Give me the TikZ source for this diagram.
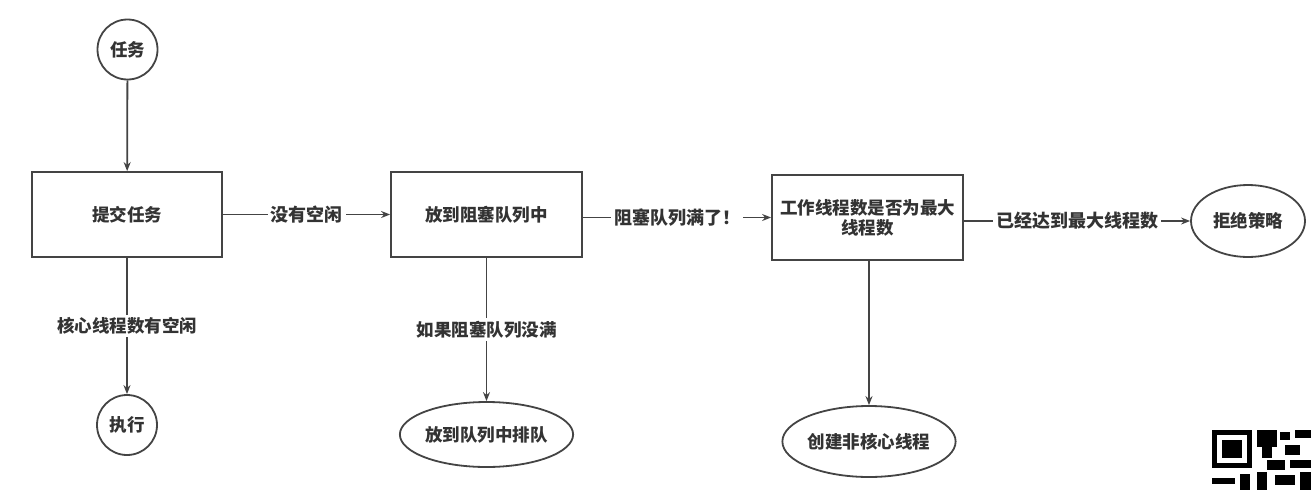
\documentclass[tikz,border=0pt]{standalone}
\usepackage{fontspec}
\setmainfont{Noto Sans CJK SC}
\usetikzlibrary{arrows.meta,shapes.geometric}
\definecolor{linec}{HTML}{444444}
\definecolor{textc}{HTML}{333333}
\begin{document}
\begin{tikzpicture}[x=1pt,y=-1pt,
  base/.style={draw=linec, line width=1.8pt, align=center, inner sep=0pt, text=textc,
    font=\fontsize{17.5}{20}\selectfont\bfseries},
  box/.style={base, rectangle, minimum width=#1, minimum height=85pt},
  circ/.style={base, circle, minimum size=60pt},
  oval/.style={base, ellipse, minimum width=#1},
  arr/.style={draw=linec, line width=1.8pt, -{Stealth[length=9pt,width=7pt]}},
  lbl/.style={fill=white, text=textc, inner sep=3pt, font=\fontsize{18}{22}\selectfont\bfseries},
  vlbl/.style={lbl, font=\fontsize{17.5}{21}\selectfont\bfseries}]
\useasboundingbox (0,0) rectangle (1311,490);
\fill[white] (0,0) rectangle (1311,490);

\node[circ] (task) at (127.5,49.5) {任务};
\node[box=190pt] (submit) at (127,214.5) {提交任务};
\node[circ] (exec) at (127,425) {执行};
\node[box=191pt] (queue) at (486.5,214.5) {放到阻塞队列中};
\node[box=191pt] (check) at (867.5,217.5) {工作线程数是否为最大\\线程数};
\node[oval=114pt, minimum height=72pt] (reject) at (1248,221) {拒绝策略};
\node[oval=157pt, minimum height=65pt] (wait) at (486.5,434.5) {放到队列中排队};
\node[oval=168pt, minimum height=71pt] (create) at (869,441.5) {创建非核心线程};

\draw[arr] (task) -- (submit);
\draw[arr] (submit) -- node[vlbl]{核心线程数有空闲} (exec);
\draw[arr] (submit) -- node[lbl]{没有空闲} (queue);
\draw[arr] (queue.east |- check.west) -- node[lbl]{阻塞队列满了！} (check.west);
\draw[arr] (check.east |- reject.west) -- node[lbl]{已经达到最大线程数} (reject.west);
\draw[arr] (queue) -- node[vlbl]{如果阻塞队列没满} (wait);
\draw[arr] (check.south -| create.north) -- (create.north);

% partial QR code in the corner
\begin{scope}[black]
\fill (1212,430) rectangle (1252,468);
\fill[white] (1217,435) rectangle (1247,463);
\fill (1222,440) rectangle (1242,458);
\fill (1257,430) rectangle (1277,447);
\fill (1262,447) rectangle (1272,458);
\fill (1280,432) rectangle (1290,440);
\fill (1295,430) rectangle (1311,438);
\fill (1285,445) rectangle (1300,455);
\fill (1267,460) rectangle (1285,470);
\fill (1290,460) rectangle (1311,468);
\fill (1257,472) rectangle (1267,490);
\fill (1275,475) rectangle (1295,485);
\fill (1300,472) rectangle (1311,490);
\fill (1212,478) rectangle (1235,484);
\fill (1240,474) rectangle (1250,490);
\end{scope}
\end{tikzpicture}
\end{document}
